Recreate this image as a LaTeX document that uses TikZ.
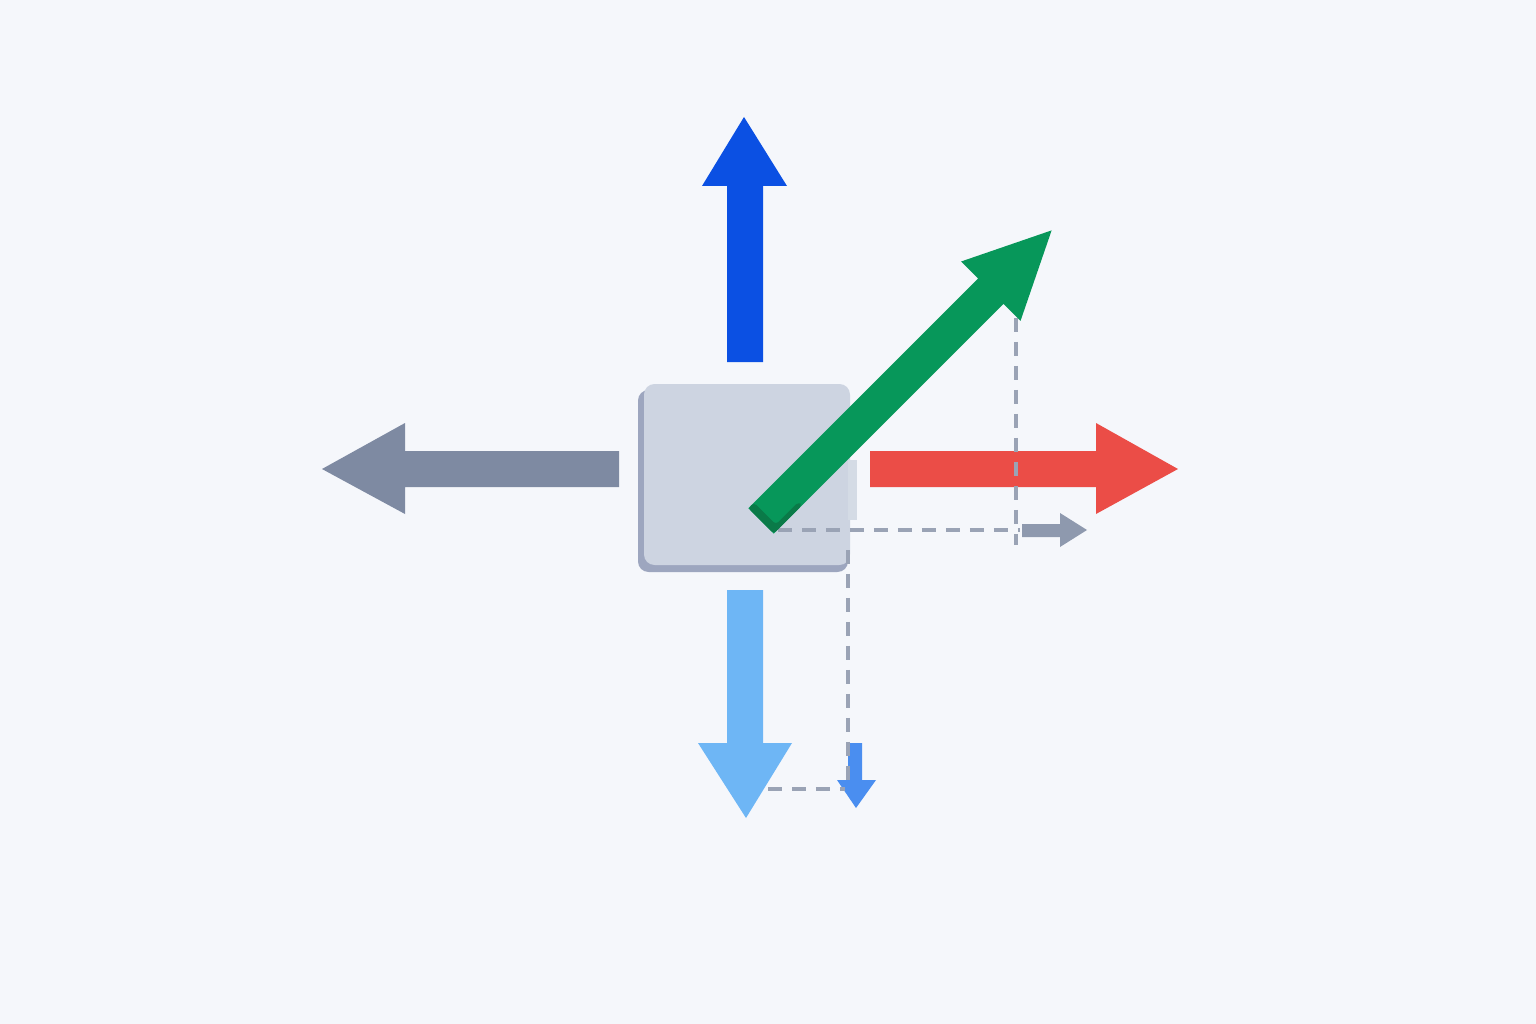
\documentclass[tikz,border=0pt]{standalone}
\usetikzlibrary{arrows.meta}

\definecolor{bgcol}{HTML}{F5F7FB}
\definecolor{boxface}{HTML}{CDD4E1}
\definecolor{boxshade}{HTML}{9DA6BF}
\definecolor{upblue}{HTML}{0B50E3}
\definecolor{downblue}{HTML}{6EB6F5}
\definecolor{leftgray}{HTML}{7E8AA2}
\definecolor{rightred}{HTML}{EB4D47}
\definecolor{diaggreen}{HTML}{07975A}
\definecolor{tailgreen}{HTML}{0A7A48}
\definecolor{compgray}{HTML}{8E99AE}
\definecolor{compblue}{HTML}{4A8EF0}
\definecolor{dashgray}{HTML}{9AA3B5}

\tikzset{
	guide/.style={draw=dashgray, line width=0.08cm, dash pattern=on 0.28cm off 0.2cm},
}

\begin{document}
\begin{tikzpicture}[x=0.02cm, y=-0.02cm]

\def\ox{744}
\def\oy{477}

\path [use as bounding box, fill=bgcol] (0,0) rectangle (1536,1024);

% BOX
\fill [boxshade, rounded corners=6] (\ox,\oy) +(-106,-87) rectangle +(104,95);
\fill [boxface, rounded corners=6] (\ox,\oy) +(-100,-93) rectangle +(106,88);
\fill [boxface!85!white] (\ox,\oy) +(104,-17) rectangle +(113,43);

% FORCES
\fill [upblue] (\ox,\oy)
	+(-17,-115) --
	+(-17,-291) --
	+(-42,-291) --
	+(0,-360) --
	+(43,-291) --
	+(19,-291) --
	+(19,-115) --
	cycle;
\fill [leftgray] (\ox,\oy)
	+(-125,-26) --
	+(-339,-26) --
	+(-339,-54) --
	+(-422,-8) --
	+(-339,37) --
	+(-339,10) --
	+(-125,10) --
	cycle;
\fill [rightred] (\ox,\oy)
	+(126,-26) --
	+(352,-26) --
	+(352,-54) --
	+(434,-8) --
	+(352,37) --
	+(352,10) --
	+(126,10) --
	cycle;
\fill [downblue] (\ox,\oy)
	+(-17,113) --
	+(-17,266) --
	+(-46,266) --
	+(2,341) --
	+(48,266) --
	+(19,266) --
	+(19,113) --
	cycle;

% COMPONENTS
\fill [compgray] (\ox,\oy)
	+(278,47) --
	+(316,47) --
	+(316,36) --
	+(343,53) --
	+(316,70) --
	+(316,60) --
	+(278,60) --
	cycle;
\fill [compblue] (\ox,\oy)
	+(104,266) --
	+(104,303) --
	+(93,303) --
	+(112,331) --
	+(132,303) --
	+(118,303) --
	+(118,266) --
	cycle;

% GUIDES
\draw [guide] (\ox,\oy) +(272,-159) -- +(272,68);
\draw [guide] (\ox,\oy) +(34,53) -- +(276,53);
\draw [guide] (\ox,\oy) +(104,73) -- +(104,303);
\draw [guide] (\ox,\oy) +(24,312) -- +(101,312);

% RESULTANT
\begin{scope}[shift={(761,521)}, rotate=45]
\fill [diaggreen] (0,-18) --
	(325,-18) --
	(325,-42) --
	(411,0) --
	(325,42) --
	(325,18) --
	(0,18) --
	cycle;
\fill [tailgreen, rounded corners=2] (0,-18) -- (0,18) -- (40,18) -- (40,13) -- (8,13) -- (8,-18) -- cycle;
\end{scope}

\end{tikzpicture}
\end{document}
